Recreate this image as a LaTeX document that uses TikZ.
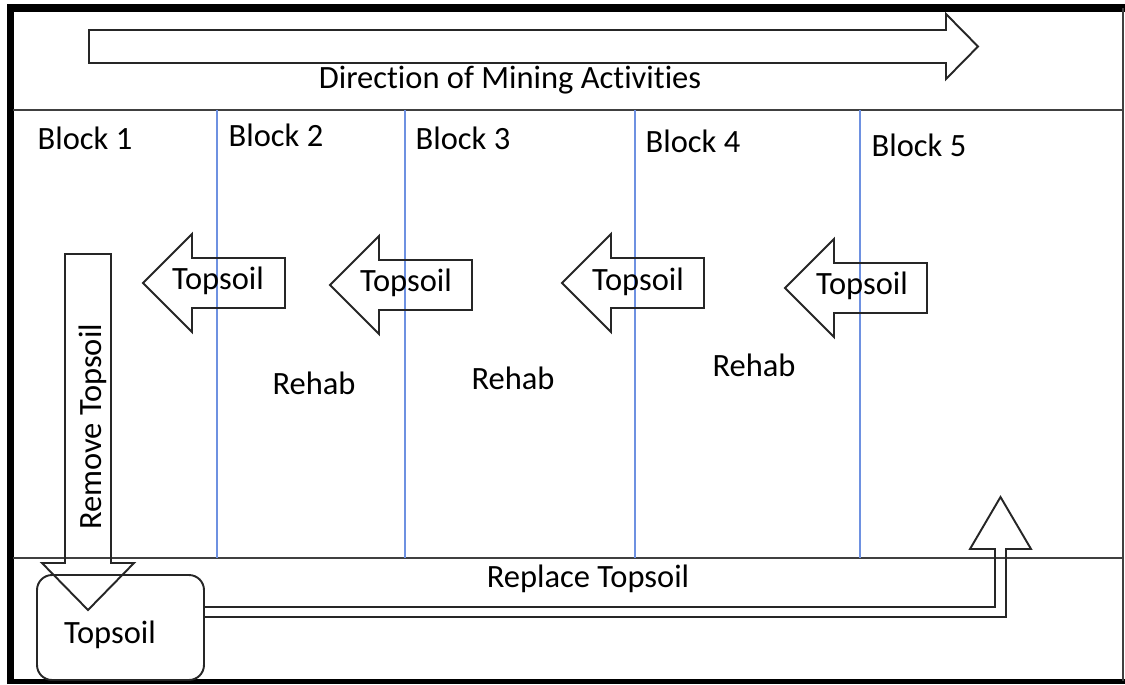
\documentclass[tikz,border=0pt]{standalone}
\usepackage{fontspec}
\setmainfont{Carlito}[Ligatures={NoCommon}]
\usepackage{tikz}
\definecolor{sepblue}{RGB}{110,145,225}

\begin{document}
\begin{tikzpicture}[x=0.02cm,y=-0.02cm,
    lbl/.style={font=\fontsize{18.5}{22}\selectfont,anchor=base,inner sep=0pt},
    blk/.style={draw=black!85,line width=1.1pt,line join=miter},
    sep/.style={draw=sepblue,line width=.6pt},
    rule/.style={draw=black!75,line width=.9pt},
    toparrow/.pic={\draw[blk] (0,0) -- (49,-49) -- (49,-25) -- (142,-25) -- (142,25) -- (49,25) -- (49,49) -- cycle;}]
    \useasboundingbox (0,0) rectangle (1125,684);
    \draw[line width=4pt] (10.5,684) -- (10.5,8) -- (1125,8);
    \draw[line width=3pt] (8,681.5) -- (1125,681.5);
    \draw[rule] (1123,8) -- (1123,681);
    \draw[rule] (13,110) -- (1123,110);
    \draw[rule] (13,558) -- (1123,558);
    \foreach \x in {217,405,635,860}
      \draw[sep] (\x,110) -- (\x,558);

    \draw[blk] (89,30) -- (946,30) -- (946,14) -- (978,46.5) -- (946,79) -- (946,63) -- (89,63) -- cycle;
    \node[lbl] (dir) at (510,88) {Direction of Mining Activities};

    \node[lbl] (block1) at (85,149) {Block 1};
    \node[lbl] (block2) at (276,146) {Block 2};
    \node[lbl] (block3) at (463,149) {Block 3};
    \node[lbl] (block4) at (693,152) {Block 4};
    \node[lbl] (block5) at (919,156) {Block 5};

    \pic at (143,283) {toparrow};
    \pic at (330,285) {toparrow};
    \pic at (562,283) {toparrow};
    \pic at (785,288) {toparrow};
    \node[lbl] (soil1) at (218,289) {Topsoil};
    \node[lbl] (soil2) at (406,291) {Topsoil};
    \node[lbl] (soil3) at (638,290) {Topsoil};
    \node[lbl] (soil4) at (862,294) {Topsoil};

    \node[lbl] (rehab1) at (314,394) {Rehab};
    \node[lbl] (rehab2) at (513,389) {Rehab};
    \node[lbl] (rehab3) at (754,376) {Rehab};

    \draw[blk] (65,254) -- (111,254) -- (111,563) -- (134,563) -- (88,610) -- (42,563) -- (65,563) -- cycle;
    \node[lbl,rotate=90] (remove) at (101,427) {Remove Topsoil};

    \node[draw=black!85,line width=1.1pt,rounded corners=.3cm,minimum width=3.34cm,minimum height=2.1cm] (store) at (120.5,627.5) {};
    \node[lbl] (storetxt) at (110,643) {Topsoil};
    \draw[blk] (store.east |- 0,607) -- (995,607) -- (995,549) -- (970,549) -- (1000.5,497) -- (1031,549) -- (1006,549) -- (1006,617) -- (store.east |- 0,617);
    \node[lbl] (replace) at (588,587) {Replace Topsoil};
\end{tikzpicture}
\end{document}
